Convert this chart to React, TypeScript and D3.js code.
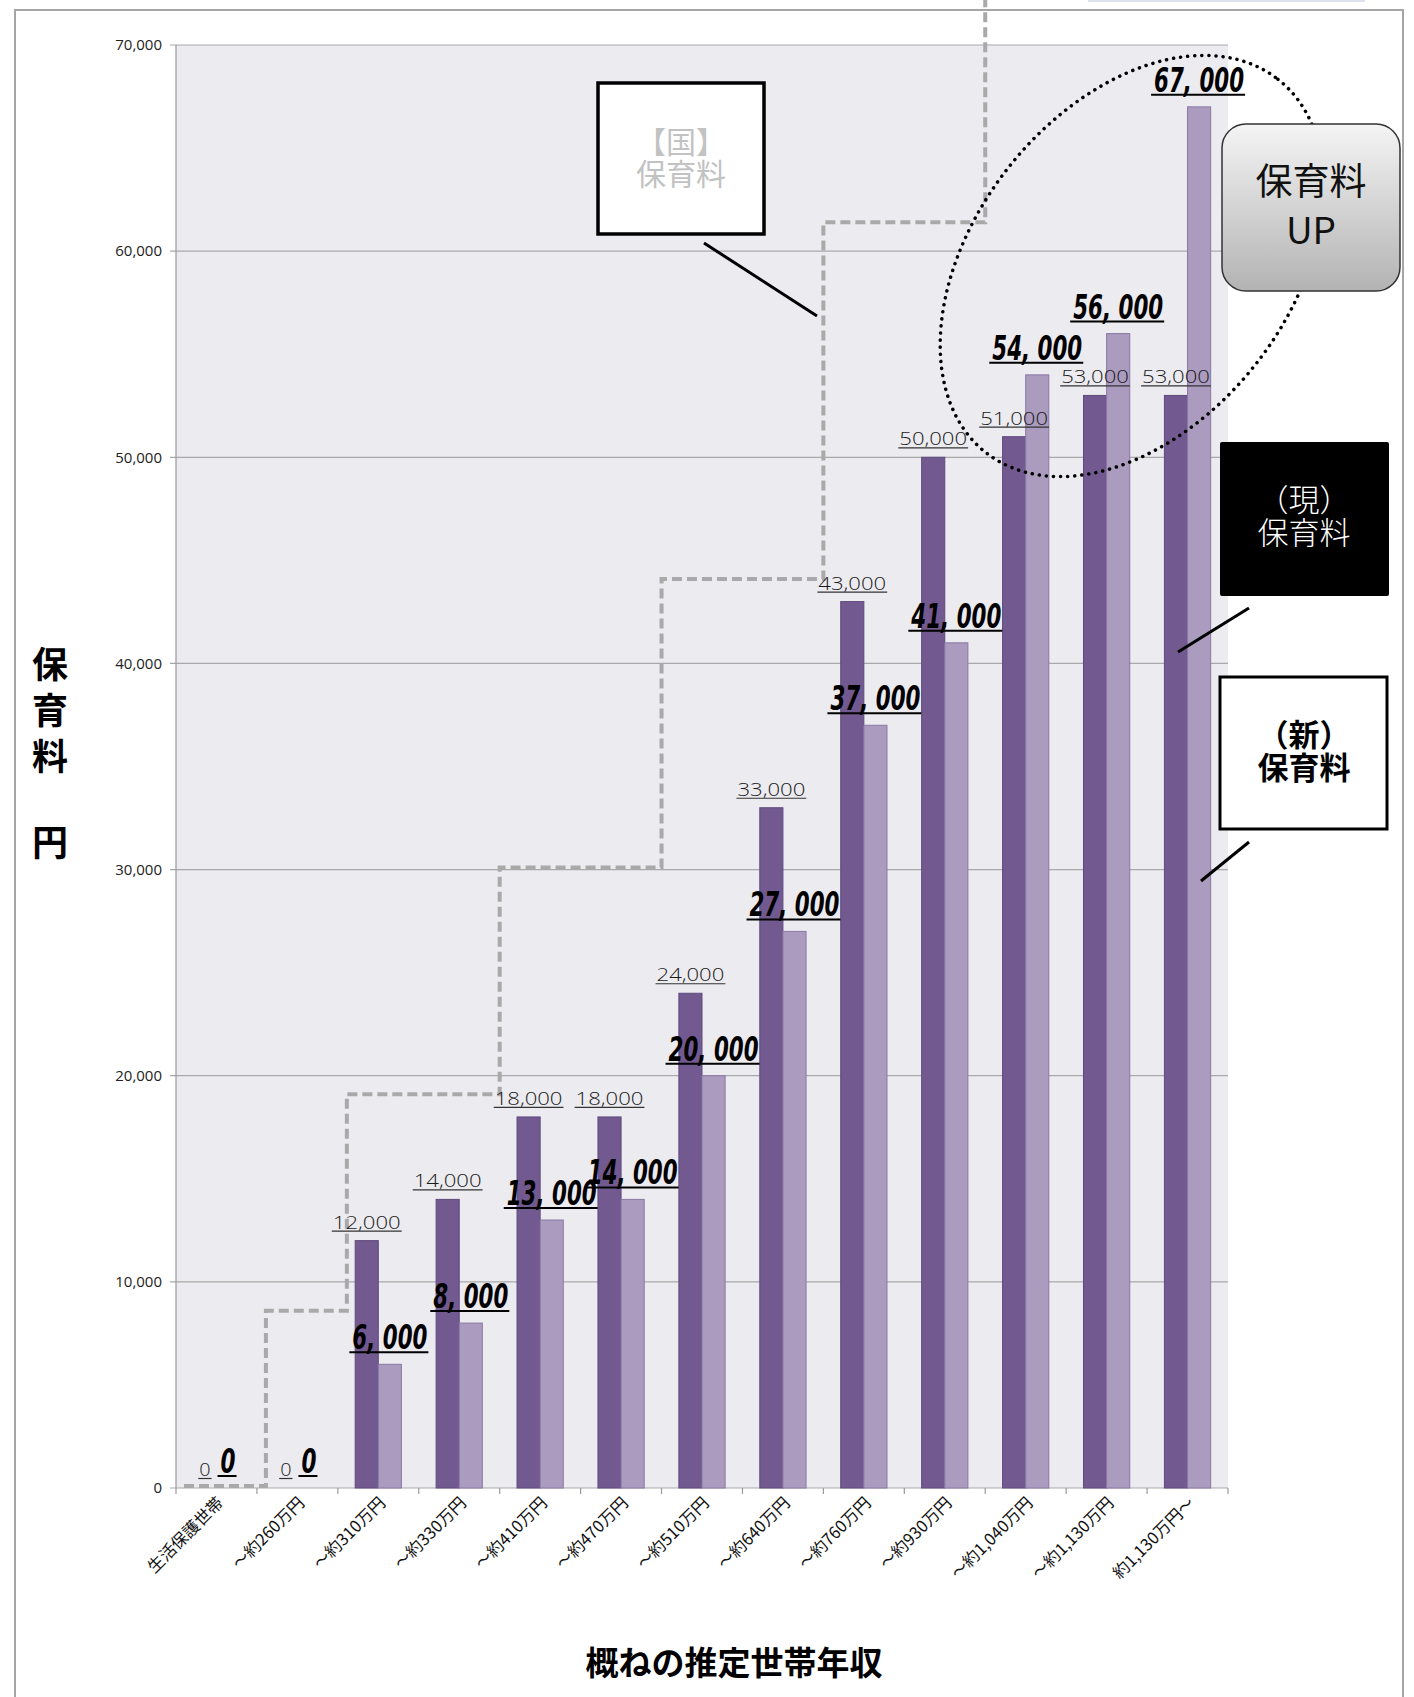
import React, { useEffect, useRef } from "react";
import * as d3 from "d3";

// income bands (x axis)
const categories = [
  "生活保護世帯",
  "～約260万円",
  "～約310万円",
  "～約330万円",
  "～約410万円",
  "～約470万円",
  "～約510万円",
  "～約640万円",
  "～約760万円",
  "～約930万円",
  "～約1,040万円",
  "～約1,130万円",
  "約1,130万円～",
];

// (現) current fee and (新) new fee, yen per month
const currentFee = [0, 0, 12000, 14000, 18000, 18000, 24000, 33000, 43000, 50000, 51000, 53000, 53000];
const newFee = [0, 0, 6000, 8000, 13000, 14000, 20000, 27000, 37000, 41000, 54000, 56000, 67000];
// 【国】 national standard fee (dashed step line)
const nationalFee = [0, 8500, 19000, 19000, 30000, 30000, 44000, 44000, 61300, 61300, 80000, 80000, 80000];

const yTicks = [0, 10000, 20000, 30000, 40000, 50000, 60000, 70000];

const W = 1414;
const H = 1697;
const JP = "'Noto Sans CJK JP', 'Noto Sans', sans-serif";

const App = () => {
  const svgRef = useRef<SVGSVGElement>(null);

  useEffect(() => {
    const svg = d3.select(svgRef.current);
    svg.selectAll("*").remove();

    const plot = { left: 176, right: 1228, top: 45, bottom: 1488 };

    const x = d3.scaleBand().domain(categories).range([plot.left, plot.right]);
    const bw = x.bandwidth();
    const xs = d3.scaleBand().domain(["cur", "new"]).range([0, bw]).paddingOuter(0.75);
    const y = d3.scaleLinear().domain([0, 70000]).range([plot.bottom, plot.top]);

    const defs = svg.append("defs");
    const grad = defs
      .append("linearGradient")
      .attr("id", "upGrad")
      .attr("x1", 0)
      .attr("y1", 0)
      .attr("x2", 0)
      .attr("y2", 1);
    grad.append("stop").attr("offset", "0%").attr("stop-color", "#f4f4f4");
    grad.append("stop").attr("offset", "100%").attr("stop-color", "#b3b3b3");

    svg.append("rect").attr("width", W).attr("height", H).attr("fill", "#fff");

    // outer frame
    svg
      .append("path")
      .attr("d", `M15,${H} V10 H1403 V${H}`)
      .attr("fill", "none")
      .attr("stroke", "#a5a5a5")
      .attr("stroke-width", 2);
    svg
      .append("rect")
      .attr("x", 1088)
      .attr("y", 0)
      .attr("width", 277)
      .attr("height", 2)
      .attr("fill", "#dde3ee");

    // plot background
    svg
      .append("rect")
      .attr("x", plot.left)
      .attr("y", plot.top)
      .attr("width", plot.right - plot.left)
      .attr("height", plot.bottom - plot.top)
      .attr("fill", "#ecebf0");

    // grid lines + y axis ticks
    const gy = svg.append("g");
    yTicks.forEach((t) => {
      gy.append("line")
        .attr("x1", plot.left - 6)
        .attr("x2", plot.right)
        .attr("y1", y(t))
        .attr("y2", y(t))
        .attr("stroke", "#a9a9a9")
        .attr("stroke-width", 1.2);
      gy.append("text")
        .attr("x", plot.left - 14)
        .attr("y", y(t))
        .attr("dy", "0.35em")
        .attr("text-anchor", "end")
        .attr("font-family", "'Open Sans', sans-serif")
        .attr("font-size", 15)
        .attr("fill", "#222")
        .text(d3.format(",")(t));
    });
    gy.append("line")
      .attr("x1", plot.left)
      .attr("x2", plot.left)
      .attr("y1", plot.top)
      .attr("y2", plot.bottom)
      .attr("stroke", "#9a9a9a")
      .attr("stroke-width", 1.2);

    // x axis ticks
    d3.range(categories.length + 1).forEach((i) => {
      const xx = plot.left + i * bw;
      svg
        .append("line")
        .attr("x1", xx)
        .attr("x2", xx)
        .attr("y1", plot.bottom)
        .attr("y2", plot.bottom + 6)
        .attr("stroke", "#9a9a9a")
        .attr("stroke-width", 1.2);
    });

    // bars
    const series = [
      { key: "cur", values: currentFee, fill: "#725a90", stroke: "#5f4a7d" },
      { key: "new", values: newFee, fill: "#aa9bbf", stroke: "#8a78a6" },
    ];
    series.forEach((s) => {
      svg
        .append("g")
        .selectAll("rect")
        .data(s.values)
        .join("rect")
        .attr("x", (d, i) => (x(categories[i]) as number) + (xs(s.key) as number))
        .attr("y", (d) => y(d))
        .attr("width", xs.bandwidth())
        .attr("height", (d) => plot.bottom - y(d))
        .attr("fill", s.fill)
        .attr("stroke", s.stroke)
        .attr("stroke-width", 1);
    });

    // 【国】 national fee step line
    const stepPts: [number, number][] = nationalFee.map((v, i) => [
      (x(categories[i]) as number) + (i === 0 ? 8 : i < 3 ? 9 : 0),
      v,
    ]);
    stepPts.push([plot.right, nationalFee[nationalFee.length - 1]]);
    const stepLine = d3
      .line<[number, number]>()
      .x((d) => d[0])
      .y((d) => y(d[1]) - 2)
      .curve(d3.curveStepAfter);
    svg
      .append("path")
      .datum(stepPts)
      .attr("d", stepLine)
      .attr("fill", "none")
      .attr("stroke", "#a9a9a9")
      .attr("stroke-width", 4)
      .attr("stroke-dasharray", "10 5");

    // dotted ellipse around the increases
    svg
      .append("ellipse")
      .attr("cx", 1132)
      .attr("cy", 266)
      .attr("rx", 237)
      .attr("ry", 158)
      .attr("transform", "rotate(-52 1132 266)")
      .attr("fill", "none")
      .attr("stroke", "#000")
      .attr("stroke-width", 3.5)
      .attr("stroke-linecap", "round")
      .attr("stroke-dasharray", "0.1 7");

    // current fee labels (thin, underlined)
    currentFee.forEach((v, i) => {
      const cx = (x(categories[i]) as number) + (xs("cur") as number) + xs.bandwidth() / 2;
      const label = d3.format(",")(v);
      const tl = label.length * 11.3;
      const by = y(v) - 12;
      svg
        .append("text")
        .attr("x", cx)
        .attr("y", by)
        .attr("text-anchor", "middle")
        .attr("font-family", "'Open Sans', sans-serif")
        .attr("font-weight", 300)
        .attr("font-size", 18)
        .attr("fill", "#1a1a1a")
        .attr("textLength", tl)
        .attr("lengthAdjust", "spacingAndGlyphs")
        .text(label);
      svg
        .append("line")
        .attr("x1", cx - tl / 2 - 1)
        .attr("x2", cx + tl / 2 + 1)
        .attr("y1", by + 2.5)
        .attr("y2", by + 2.5)
        .attr("stroke", "#333")
        .attr("stroke-width", 1.2);
    });

    // new fee labels (bold italic, underlined)
    newFee.forEach((v, i) => {
      const cx = (x(categories[i]) as number) + (xs("new") as number) + xs.bandwidth() / 2;
      const label = v === 0 ? "0" : d3.format(",")(v).replace(",", ", ");
      const tl = label.length === 1 ? 15 : 15 * (label.length - 1);
      const by = y(v) - 15;
      svg
        .append("text")
        .attr("x", cx)
        .attr("y", by)
        .attr("text-anchor", "middle")
        .attr("font-family", "'DejaVu Sans Condensed', 'DejaVu Sans', sans-serif")
        .attr("font-weight", "bold")
        .attr("font-style", "italic")
        .attr("font-size", 34)
        .attr("fill", "#000")
        .attr("textLength", tl)
        .attr("lengthAdjust", "spacingAndGlyphs")
        .text(label);
      svg
        .append("line")
        .attr("x1", cx - tl / 2 - 3)
        .attr("x2", cx + tl / 2 + 1)
        .attr("y1", by + 3)
        .attr("y2", by + 3)
        .attr("stroke", "#000")
        .attr("stroke-width", 2);
    });

    // x tick labels
    categories.forEach((c) => {
      const cx = (x(c) as number) + bw / 2 + 8;
      svg
        .append("text")
        .attr("transform", `translate(${cx},${plot.bottom + 16}) rotate(-45)`)
        .attr("text-anchor", "end")
        .attr("font-family", JP)
        .attr("font-size", 16.5)
        .attr("fill", "#111")
        .text(c);
    });

    // axis titles
    const yTitle = [
      ["保", 665],
      ["育", 711],
      ["料", 757],
      ["円", 843],
    ] as [string, number][];
    yTitle.forEach(([ch, yy]) => {
      svg
        .append("text")
        .attr("x", 50)
        .attr("y", yy)
        .attr("dy", "0.36em")
        .attr("text-anchor", "middle")
        .attr("font-family", JP)
        .attr("font-weight", "bold")
        .attr("font-size", 36)
        .attr("fill", "#000")
        .text(ch);
    });
    svg
      .append("text")
      .attr("x", 734)
      .attr("y", 1663)
      .attr("dy", "0.36em")
      .attr("text-anchor", "middle")
      .attr("font-family", JP)
      .attr("font-weight", "bold")
      .attr("font-size", 33)
      .attr("fill", "#000")
      .text("概ねの推定世帯年収");

    // multi-line centred text helper
    const block = (
      lines: string[],
      cx: number,
      cy: number,
      lh: number,
      size: number,
      fill: string,
      weight: string | number
    ) => {
      const t = svg
        .append("text")
        .attr("x", cx)
        .attr("y", cy - ((lines.length - 1) * lh) / 2)
        .attr("text-anchor", "middle")
        .attr("font-family", JP)
        .attr("font-size", size)
        .attr("font-weight", weight)
        .attr("fill", fill);
      lines.forEach((l, i) => {
        t.append("tspan")
          .attr("x", cx)
          .attr("dy", i === 0 ? "0.36em" : lh)
          .text(l);
      });
    };

    // callout: 【国】保育料
    svg
      .append("line")
      .attr("x1", 704)
      .attr("y1", 243)
      .attr("x2", 817)
      .attr("y2", 316)
      .attr("stroke", "#000")
      .attr("stroke-width", 3);
    svg
      .append("rect")
      .attr("x", 598)
      .attr("y", 83)
      .attr("width", 166)
      .attr("height", 151)
      .attr("fill", "#fff")
      .attr("stroke", "#000")
      .attr("stroke-width", 3.5);
    block(["【国】", "保育料"], 681, 158, 32, 30, "#c2c2c2", 400);

    // callout: 保育料UP
    svg
      .append("rect")
      .attr("x", 1222)
      .attr("y", 124)
      .attr("width", 178)
      .attr("height", 167)
      .attr("rx", 24)
      .attr("fill", "url(#upGrad)")
      .attr("stroke", "#333")
      .attr("stroke-width", 1.5);
    block(["保育料", "UP"], 1311, 206, 49, 37, "#111", 400);

    // legend callouts: (現) and (新)
    svg
      .append("line")
      .attr("x1", 1249)
      .attr("y1", 608)
      .attr("x2", 1178)
      .attr("y2", 652)
      .attr("stroke", "#000")
      .attr("stroke-width", 3);
    svg
      .append("rect")
      .attr("x", 1220)
      .attr("y", 442)
      .attr("width", 169)
      .attr("height", 154)
      .attr("rx", 2)
      .attr("fill", "#000");
    block(["（現）", "保育料"], 1304, 516, 33, 31, "#fff", 300);

    svg
      .append("line")
      .attr("x1", 1249)
      .attr("y1", 842)
      .attr("x2", 1201)
      .attr("y2", 881)
      .attr("stroke", "#000")
      .attr("stroke-width", 3);
    svg
      .append("rect")
      .attr("x", 1220)
      .attr("y", 677)
      .attr("width", 167)
      .attr("height", 152)
      .attr("fill", "#fff")
      .attr("stroke", "#000")
      .attr("stroke-width", 3);
    block(["（新）", "保育料"], 1304, 751, 33, 31, "#000", "bold");
  }, []);

  return (
    <div style={{ position: "absolute", left: 0, top: 0 }}>
      <svg ref={svgRef} width={W} height={H} style={{ display: "block" }} />
    </div>
  );
};

export default App;
